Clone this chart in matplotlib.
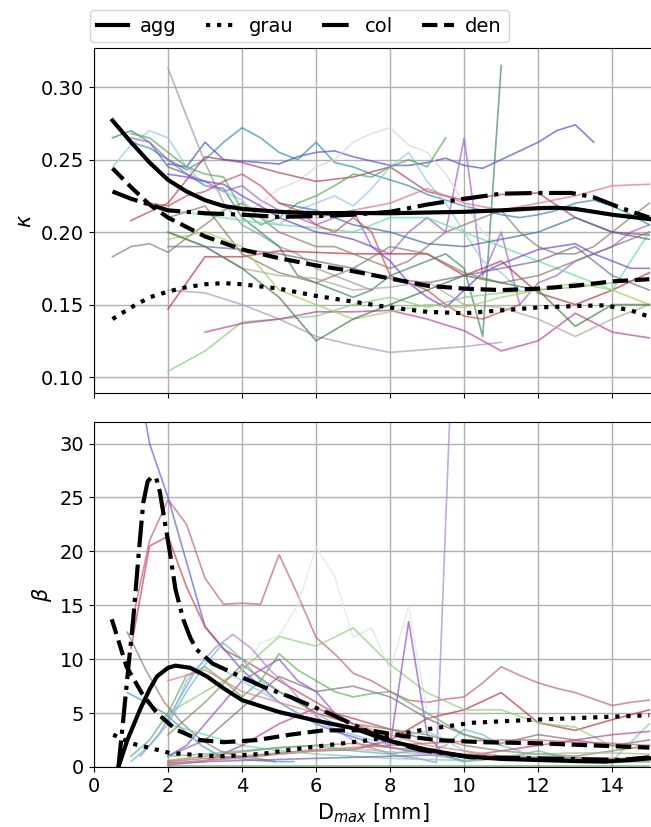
import numpy as np
import matplotlib
matplotlib.use("Agg")
import matplotlib.pyplot as plt
from matplotlib.lines import Line2D

# ---------------- data ----------------
# thick fitted curves, kappa panel
agg_k_x = [0.5, 1.0, 1.5, 2.0, 2.5, 3.0, 3.5, 4.0, 5.0, 6.0, 7.0, 8.0, 9.0, 10.0, 11.0, 12.0, 12.5, 13.0, 14.0, 15.0]
agg_k_y = [0.277, 0.262, 0.248, 0.236, 0.228, 0.222, 0.218, 0.216, 0.214, 0.213, 0.2132, 0.213, 0.2135, 0.214, 0.215, 0.2165, 0.2168, 0.216, 0.212, 0.209]
col_k_x = [0.5, 1.0, 2.0, 3.0, 4.0, 5.0, 6.0, 7.0, 8.0, 9.0, 10.0, 11.0, 12.0, 12.9, 13.5, 14.2, 15.0]
col_k_y = [0.228, 0.223, 0.215, 0.213, 0.212, 0.2105, 0.211, 0.212, 0.214, 0.219, 0.223, 0.2265, 0.227, 0.227, 0.224, 0.217, 0.210]
den_k_x = [0.5, 1.0, 1.5, 2.0, 3.0, 4.0, 5.0, 6.0, 7.0, 8.0, 9.0, 10.0, 11.0, 12.0, 13.0, 14.0, 15.0]
den_k_y = [0.244, 0.231, 0.219, 0.210, 0.197, 0.188, 0.182, 0.177, 0.173, 0.168, 0.163, 0.161, 0.160, 0.161, 0.163, 0.166, 0.1675]
grau_k_x = [0.5, 1.0, 1.5, 2.0, 2.5, 3.0, 3.5, 4.0, 5.0, 6.0, 7.0, 8.0, 9.0, 10.0, 11.0, 12.0, 13.0, 13.8, 14.5, 15.0]
grau_k_y = [0.140, 0.148, 0.155, 0.159, 0.162, 0.164, 0.1648, 0.164, 0.161, 0.156, 0.152, 0.148, 0.145, 0.144, 0.146, 0.148, 0.149, 0.1495, 0.146, 0.1416]

# thick fitted curves, beta panel
agg_b_x = [0.66, 0.9, 1.24, 1.5, 1.7, 2.0, 2.2, 2.6, 3.05, 3.5, 4.0, 5.0, 6.0, 7.0, 8.0, 9.0, 10.0, 11.0, 12.0, 13.0, 13.8, 14.5, 15.0]
agg_b_y = [0.0, 2.5, 5.3, 7.2, 8.4, 9.2, 9.4, 9.2, 8.4, 7.3, 6.2, 5.1, 4.3, 3.6, 2.4, 1.6, 1.0, 0.75, 0.65, 0.55, 0.5, 0.65, 0.8]
col_b_x = [0.66, 0.79, 0.95, 1.06, 1.2, 1.33, 1.45, 1.56, 1.68, 1.78, 1.9, 2.05, 2.2, 2.41, 2.6, 2.77, 3.2, 3.95, 4.6, 5.3, 6.4, 7.46, 8.2, 8.8, 10.2, 12.0, 14.2, 15.0]
col_b_y = [0.0, 4.4, 10.0, 13.7, 19.5, 24.5, 26.5, 26.9, 26.8, 25.5, 23.0, 19.9, 16.5, 13.7, 12.0, 10.9, 9.6, 8.4, 7.4, 6.5, 4.9, 3.2, 2.2, 1.6, 0.9, 0.8, 0.65, 0.9]
den_b_x = [0.48, 0.88, 1.3, 1.7, 2.2, 2.86, 3.5, 4.4, 5.3, 6.2, 7.46, 8.3, 9.26, 10.5, 12.0, 13.5, 15.0]
den_b_y = [13.7, 9.3, 6.8, 5.0, 3.5, 2.5, 2.3, 2.5, 3.0, 3.4, 3.4, 2.9, 2.5, 2.3, 2.2, 2.0, 1.8]
grau_b_x = [0.52, 1.0, 1.7, 2.05, 3.0, 3.5, 4.5, 5.3, 6.5, 7.46, 8.8, 10.2, 12.0, 13.5, 15.0]
grau_b_y = [3.0, 2.2, 1.6, 1.3, 1.05, 1.0, 1.2, 1.6, 2.1, 2.5, 3.4, 4.1, 4.4, 4.6, 4.8]

# thin individual series: (x start, x step, values)
kappa_starts = [1.0, 2.0, 2.0, 0.5, 1.0, 4.0, 2.0, 2.0, 3.0, 2.0, 0.5, 1.0, 0.5, 1.0, 2.0, 2.0, 2.0, 2.0, 6.0, 5.0, 1.5, 2.0, 2.0, 2.0]
kappa_steps = [0.5, 0.5, 0.5, 0.5, 0.5, 0.5, 1.0, 1.0, 1.0, 1.0, 0.5, 1.0, 0.5, 0.5, 1.0, 0.5, 1.0, 1.0, 1.0, 1.0, 0.5, 1.0, 1.0, 1.0]
kappa_vals = [
    [0.262, 0.258, 0.250, 0.243, 0.250, 0.262, 0.272, 0.265, 0.255, 0.250, 0.262, 0.248, 0.245, 0.240, 0.236, 0.232, 0.226, 0.222, 0.218, 0.215, 0.212, 0.210, 0.212, 0.215, 0.220, 0.222, 0.218, 0.212, 0.205],
    [0.247, 0.245, 0.262, 0.250, 0.249, 0.248, 0.247, 0.252, 0.255, 0.256, 0.252, 0.249, 0.246, 0.246, 0.248, 0.251, 0.246, 0.244, 0.250, 0.256, 0.262, 0.270, 0.274, 0.262],
    [0.313, 0.280, 0.248, 0.220, 0.205, 0.198, 0.190, 0.185, 0.175, 0.170, 0.165, 0.160],
    [0.265, 0.270, 0.262, 0.245, 0.240, 0.232, 0.230, 0.210, 0.200, 0.190, 0.170, 0.165, 0.160, 0.155, 0.160, 0.170, 0.175, 0.180, 0.185, 0.175, 0.128, 0.315],
    [0.265, 0.262, 0.250, 0.240, 0.235, 0.228, 0.232, 0.222, 0.215, 0.210, 0.205, 0.210, 0.215, 0.190, 0.185, 0.200, 0.210, 0.200, 0.265, 0.170, 0.200, 0.150, 0.165, 0.170, 0.180, 0.185, 0.190, 0.200, 0.205],
    [0.210, 0.220, 0.230, 0.235, 0.245, 0.250, 0.262, 0.268, 0.272, 0.260, 0.255, 0.240, 0.220, 0.200, 0.190],
    [0.160, 0.158, 0.150, 0.140, 0.128, 0.122, 0.117, 0.119, 0.121, 0.124],
    [0.104, 0.118, 0.138, 0.140, 0.142, 0.150, 0.155, 0.148, 0.155, 0.158, 0.160, 0.162, 0.165, 0.168],
    [0.131, 0.137, 0.140, 0.145, 0.145, 0.146, 0.140, 0.132, 0.118, 0.125, 0.144, 0.131, 0.127],
    [0.147, 0.183, 0.183, 0.187, 0.186, 0.185, 0.185, 0.185, 0.170, 0.180, 0.158, 0.150, 0.160, 0.172],
    [0.183, 0.190, 0.192, 0.186, 0.196, 0.205, 0.215, 0.220, 0.210, 0.200, 0.195, 0.190, 0.190, 0.185, 0.180, 0.175, 0.180, 0.190, 0.200, 0.205, 0.210, 0.215, 0.200, 0.190, 0.185, 0.185, 0.190, 0.200, 0.210, 0.220],
    [0.208, 0.220, 0.252, 0.248, 0.241, 0.235, 0.238, 0.245, 0.228, 0.222, 0.226, 0.227, 0.210, 0.200, 0.198],
    [0.245, 0.260, 0.270, 0.265, 0.245, 0.232, 0.228, 0.222, 0.210, 0.205, 0.215, 0.220, 0.225, 0.218, 0.230, 0.245, 0.255, 0.235, 0.220, 0.200, 0.180, 0.172, 0.160],
    [0.268, 0.265, 0.255, 0.245, 0.240, 0.238, 0.215, 0.205, 0.210, 0.220, 0.225, 0.232, 0.240, 0.238, 0.245, 0.250, 0.245, 0.265],
    [0.215, 0.212, 0.208, 0.205, 0.203, 0.200, 0.210, 0.210, 0.200, 0.190, 0.180, 0.170, 0.160, 0.200],
    [0.240, 0.238, 0.235, 0.233, 0.225, 0.218, 0.210, 0.205, 0.200, 0.198, 0.195, 0.190, 0.180, 0.165, 0.155, 0.148, 0.160, 0.172, 0.178, 0.183, 0.188, 0.190, 0.192, 0.185, 0.180, 0.175, 0.175],
    [0.210, 0.218, 0.185, 0.172, 0.165, 0.175, 0.190, 0.185, 0.172, 0.165, 0.170, 0.180, 0.190, 0.200],
    [0.190, 0.190, 0.188, 0.185, 0.180, 0.175, 0.168, 0.165, 0.170, 0.175, 0.180, 0.190, 0.170, 0.160],
    [0.210, 0.215, 0.220, 0.230, 0.220, 0.215, 0.220, 0.225, 0.232, 0.233],
    [0.220, 0.215, 0.205, 0.200, 0.192, 0.190, 0.195, 0.200, 0.210, 0.200, 0.195],
    [0.220, 0.218, 0.225, 0.228, 0.235, 0.240, 0.232, 0.220, 0.215, 0.205, 0.200, 0.210, 0.200, 0.170, 0.165, 0.160, 0.150, 0.142, 0.140, 0.145, 0.150],
    [0.200, 0.190, 0.175, 0.170, 0.168, 0.160, 0.162, 0.166, 0.150, 0.148, 0.140, 0.128, 0.140, 0.150],
    [0.195, 0.200, 0.190, 0.160, 0.150, 0.140, 0.145, 0.150, 0.148, 0.155, 0.160, 0.165, 0.160, 0.150],
    [0.200, 0.190, 0.175, 0.155, 0.125, 0.140, 0.150, 0.160, 0.170, 0.165, 0.160, 0.135, 0.150, 0.150],
]
kappa_colors = ["#2f8fb0", "#5050e0", "#999999", "#3a8a70", "#a060e0", "#d8d8d8", "#a898c0", "#7fd07f",
                "#c040a0", "#c83040", "#8b7d6b", "#b84060", "#90c8e8", "#50b050", "#60e0a0", "#7040f0",
                "#888060", "#707090", "#e07090", "#4070a0", "#d05050", "#b0a8a0", "#a0d060", "#408040"]

beta_starts = [1.0, 1.0, 1.0, 2.0, 3.0, 2.0, 1.25, 2.0, 0.9, 1.0, 0.9, 2.0, 1.0, 2.0, 2.0, 2.0, 2.0, 2.0, 2.0, 2.0, 2.0, 2.0, 2.0, 2.0]
beta_steps = [0.5, 0.5, 0.5, 1.0, 0.5, 1.0, 0.5, 0.5, 0.5, 0.5, 0.5, 1.0, 0.5, 1.0, 1.0, 1.0, 0.5, 1.0, 1.0, 1.0, 1.0, 1.0, 1.0, 1.0]
beta_vals = [
    [40, 30, 25, 19, 13, 11, 9, 7.5, 6, 5, 4, 3.3, 2.8, 2.2, 1.8, 1.5, 1.3, 1.1, 1.0, 0.9, 0.8, 0.7, 0.7, 0.6, 0.6, 0.5, 0.5],
    [13, 21, 24.8, 22.5, 17.5, 15.1, 15.2, 15.1, 19.7, 16, 12, 10.5, 8.7, 8, 7, 6.2, 6, 6.3, 6.5, 7.8, 9.3, 8.5, 7.8, 7.3, 6.9, 6.3, 5.7, 6.0, 6.2],
    [11, 20.5, 21.4, 16.7, 13, 10.9, 10, 9, 8, 7, 6, 5, 4.5, 4, 3.5, 3, 2.5],
    [0.3, 0.6, 0.9, 1.2, 1.5, 1.6, 2.5, 4.5, 5.3, 6.9, 4.1, 3.4, 4.4, 5.3],
    [7, 8, 9, 11.5, 12.2, 15, 20.4, 17.7, 12, 12.9, 9, 14.9, 5, 2],
    [5, 7, 9, 12.1, 11.2, 12.9, 9.5, 6.9, 5.3, 5.3, 4.1, 3.7, 1.9, 1.7],
    [1, 3, 6, 9, 11, 12.3, 11, 9, 7.5, 5.5, 4, 3, 2, 1.5, 1.0, 0.8, 0.4, 45],
    [1, 2, 4, 6, 8, 9, 10, 8, 7, 5, 4, 3, 2, 13.5, 3, 1, 0.5],
    [6.9, 6, 5, 3.5, 2, 1, 0.8, 0.6, 0.5, 0.5],
    [0.5, 2, 4, 7, 9.5, 11.5, 10, 8, 7, 6, 5, 4, 3.5, 3, 2.5, 2, 1.5, 2, 3.5, 3, 2, 1.5],
    [12.5, 9, 6, 4, 2.5, 1.5, 1, 0.8, 0.5],
    [1, 2.5, 5.5, 8.4, 7, 7.5, 6.5, 4.5, 3, 2.2, 3, 2.5, 2, 2.5],
    [1, 2.5, 5, 8.5, 9.3, 8, 6.5, 8, 10.5, 9, 8, 7, 6.5, 6.8, 7, 6, 5, 4, 3, 2.5, 2],
    [4, 3, 2, 1.5, 1.2, 1, 0.8, 0.7, 0.6, 0.8, 0.9, 0.7, 0.6, 4],
    [0.2, 0.5, 2, 4, 5.5, 4, 2.5, 1.5, 1, 1.5, 2, 2.5, 3, 3.3],
    [3, 6, 9.5, 7, 5, 4, 3.5, 3, 2, 1.5, 1.2, 1, 1.5, 2],
    [4, 8, 10, 9, 8, 7, 6, 5, 4, 3.5, 3, 2.5, 2, 3, 3.3, 2.5, 1.5, 1, 0.8, 0.6],
    [8, 9, 7, 6, 5, 4, 3, 2, 1.5, 1, 0.8, 0.6, 0.5, 0.5],
    [0.1, 0.1, 0.1, 0.1, 0.1, 0.1, 0.1, 0.1, 0.1, 0.1, 0.1, 0.1, 0.1, 0.1],
    [0.5, 0.8, 1, 1.3, 1.6, 1.8, 2, 2.2, 2.4, 2.5, 2.5, 2.3, 2.2, 2.0],
    [0.4, 0.5, 0.6, 0.7, 0.8, 0.9, 1, 1.1, 1, 0.9, 0.8, 0.8, 0.7, 0.7],
    [0.3, 0.6, 0.8, 1.2, 1.5, 1.7, 1.4, 1.2, 0.6, 1, 1.2, 1.3, 1.3, 1.2],
    [0.6, 1, 1.4, 1.8, 2, 2.2, 1.8, 1.5, 1.2, 1, 0.9, 0.9, 0.8, 0.8],
    [1, 1.2, 1.5, 1.8, 2, 1.5, 1.2, 1.7, 0.5, 0.8, 1.5, 0.6, 0.5, 0.5],
]
beta_colors = ["#6060e0", "#c06080", "#d04050", "#c83040", "#e4e4e4", "#90d070", "#b080e0", "#9050d0",
               "#40a0c0", "#60c0d0", "#908070", "#807090", "#60b060", "#60e0a0", "#c040a0", "#8a8a60",
               "#80c8e8", "#e08080", "#50a050", "#d06060", "#7060d0", "#b0b0a0", "#c08050", "#50c0a0"]

legend_labels = ["agg", "grau", "col", "den"]
kappa_ticks = [0.10, 0.15, 0.20, 0.25, 0.30]
beta_ticks = [0, 5, 10, 15, 20, 25, 30]
x_ticks = [0, 2, 4, 6, 8, 10, 12, 14]

# ---------------- plot ----------------
W, H = 651, 827
fig = plt.figure(figsize=(W / 100, H / 100), dpi=100)
ax1 = fig.add_axes([94 / W, 1 - 393 / H, 559 / W, 345 / H])
ax2 = fig.add_axes([94 / W, 1 - 767 / H, 559 / W, 345 / H])

styles = ["-", ":", "-.", "--"]


def thin(ax, starts, steps, vals, colors):
    for x0, st, v, c in zip(starts, steps, vals, colors):
        x = x0 + st * np.arange(len(v))
        ax.plot(x, v, color=c, lw=1.2, alpha=0.7, zorder=2)


thin(ax1, kappa_starts, kappa_steps, kappa_vals, kappa_colors)
thin(ax2, beta_starts, beta_steps, beta_vals, beta_colors)

for (xs, ys), ls in zip([(agg_k_x, agg_k_y), (grau_k_x, grau_k_y), (col_k_x, col_k_y), (den_k_x, den_k_y)], styles):
    ax1.plot(xs, ys, color="black", lw=3, ls=ls, zorder=5)
for (xs, ys), ls in zip([(agg_b_x, agg_b_y), (grau_b_x, grau_b_y), (col_b_x, col_b_y), (den_b_x, den_b_y)], styles):
    ax2.plot(xs, ys, color="black", lw=3, ls=ls, zorder=5)

for ax in (ax1, ax2):
    ax.set_xlim(0, 15.1)
    ax.set_xticks(x_ticks)
    ax.grid(True, color="#b0b0b0", lw=1)
    ax.set_axisbelow(True)
    ax.tick_params(labelsize=14)

ax1.set_ylim(0.089, 0.327)
ax1.set_yticks(kappa_ticks)
ax1.set_yticklabels([f"{t:.2f}" for t in kappa_ticks])
ax1.tick_params(axis="x", labelbottom=False)
ax1.set_ylabel(r"$\kappa$", fontsize=15)

ax2.set_ylim(0, 32)
ax2.set_yticks(beta_ticks)
ax2.set_ylabel(r"$\beta$", fontsize=15)
ax2.set_xlabel(r"D$_{max}$ [mm]", fontsize=15)

handles = [Line2D([], [], color="black", lw=3, ls=ls) for ls in styles]
fig.legend(handles, legend_labels, loc="upper center", bbox_to_anchor=(0.46, 1.0),
           ncol=4, fontsize=14, handlelength=1.6, handletextpad=0.6, columnspacing=1.5,
           borderpad=0.35)

fig.savefig("out.png", dpi=100)
